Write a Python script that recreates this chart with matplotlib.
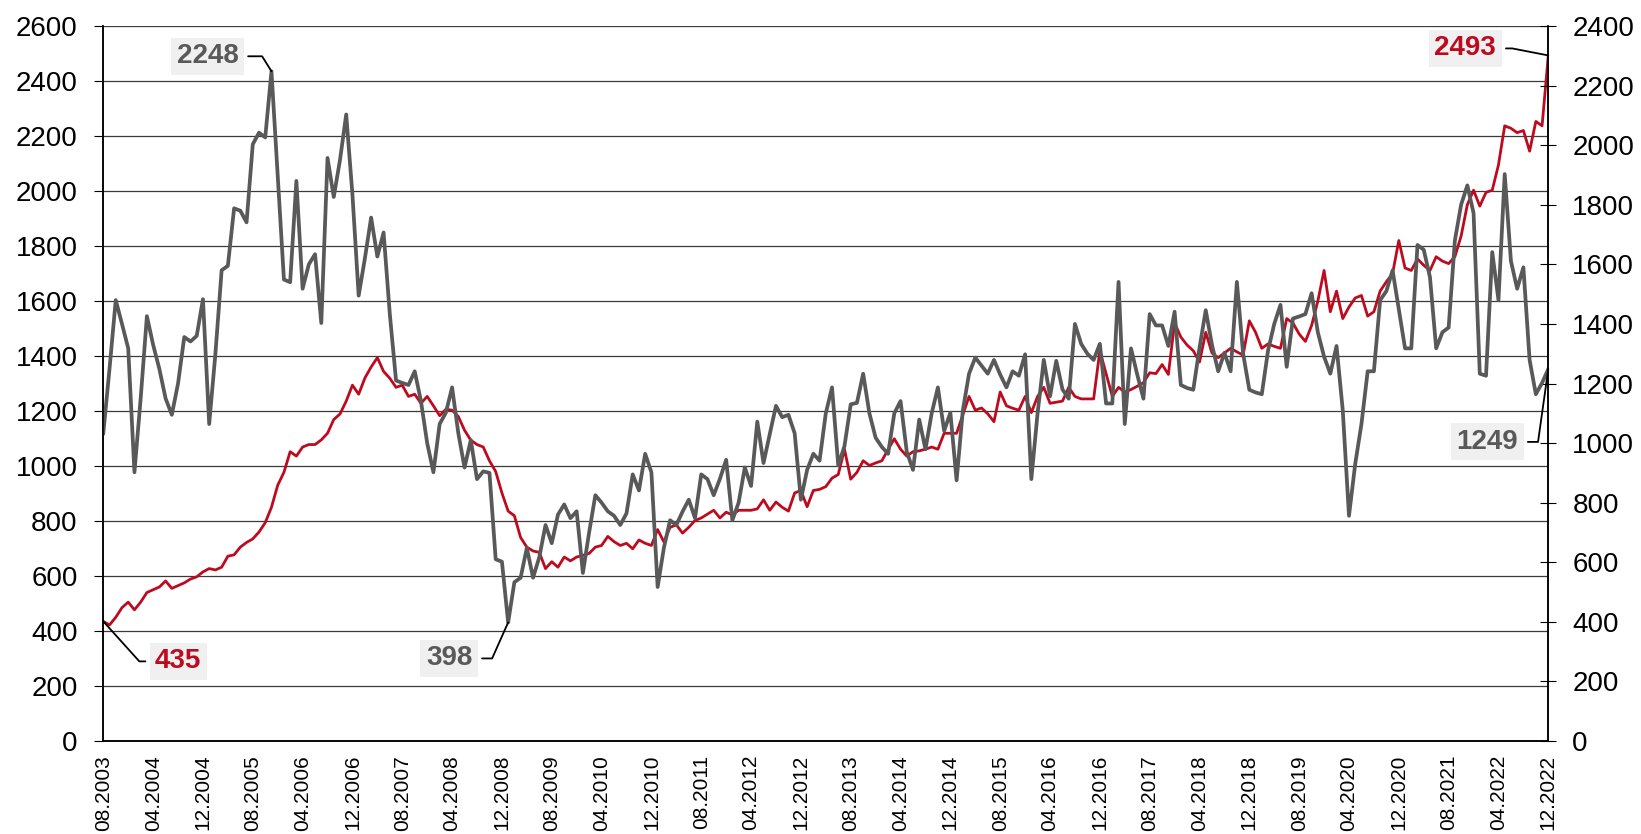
import matplotlib.pyplot as plt
import numpy as np

plt.rcParams['font.family'] = ['Liberation Sans', 'DejaVu Sans']

# monthly values, 08.2003 .. 12.2022
# red line, left axis
red = [435, 422, 450, 485, 505, 477, 505, 540, 550, 560,
       582, 555, 565, 575, 589, 597, 615, 627, 622, 632,
       672, 677, 705, 722, 735, 760, 794, 850, 930, 977,
       1052, 1036, 1069, 1078, 1078, 1095, 1119, 1169, 1189, 1236,
       1294, 1261, 1320, 1360, 1394, 1344, 1319, 1286, 1294, 1253,
       1261, 1228, 1253, 1219, 1183, 1206, 1203, 1180, 1130, 1094,
       1078, 1069, 1019, 980, 902, 836, 819, 740, 705, 691,
       686, 627, 652, 632, 669, 655, 669, 675, 682, 705,
       711, 744, 725, 711, 719, 699, 731, 719, 711, 769,
       724, 777, 786, 756, 777, 802, 811, 825, 839, 811,
       832, 822, 839, 839, 839, 844, 877, 839, 869, 850,
       836, 902, 911, 852, 911, 915, 925, 956, 969, 1061,
       952, 977, 1019, 1002, 1011, 1019, 1060, 1099, 1061, 1036,
       1052, 1055, 1061, 1069, 1061, 1119, 1119, 1119, 1186, 1253,
       1203, 1211, 1190, 1161, 1269, 1219, 1210, 1203, 1253, 1194,
       1253, 1286, 1228, 1232, 1236, 1286, 1253, 1244, 1244, 1244,
       1419, 1336, 1253, 1286, 1269, 1278, 1290, 1303, 1339, 1336,
       1369, 1333, 1520, 1469, 1440, 1419, 1378, 1486, 1411, 1394,
       1411, 1428, 1415, 1403, 1528, 1486, 1428, 1444, 1435, 1428,
       1536, 1520, 1480, 1453, 1511, 1600, 1711, 1561, 1636, 1536,
       1578, 1611, 1620, 1545, 1561, 1636, 1670, 1700, 1820, 1720,
       1711, 1753, 1730, 1711, 1761, 1745, 1736, 1761, 1836, 1950,
       2003, 1945, 1995, 2003, 2095, 2237, 2228, 2212, 2220, 2145,
       2253, 2237, 2493]

# gray line, right axis
gray = [1033, 1250, 1480, 1400, 1318, 902, 1150, 1426, 1330, 1249,
        1150, 1095, 1200, 1356, 1341, 1360, 1483, 1064, 1300, 1580,
        1595, 1788, 1780, 1741, 2003, 2042, 2026, 2248, 1900, 1549,
        1540, 1880, 1518, 1600, 1634, 1403, 1957, 1826, 1950, 2103,
        1834, 1495, 1620, 1757, 1626, 1707, 1433, 1210, 1202, 1195,
        1241, 1141, 1000, 902, 1064, 1102, 1187, 1033, 918, 1010,
        879, 905, 900, 610, 602, 398, 533, 548, 648, 548,
        617, 725, 664, 760, 794, 748, 771, 564, 700, 825,
        800, 771, 756, 725, 764, 895, 841, 964, 902, 517,
        648, 741, 725, 770, 810, 748, 895, 879, 825, 880,
        944, 741, 800, 918, 856, 1072, 933, 1030, 1125, 1087,
        1095, 1033, 810, 910, 964, 941, 1100, 1187, 925, 990,
        1130, 1135, 1233, 1100, 1018, 987, 964, 1100, 1141, 971,
        910, 1079, 979, 1100, 1187, 1041, 1102, 875, 1110, 1233,
        1287, 1260, 1233, 1279, 1230, 1187, 1241, 1226, 1298, 879,
        1100, 1279, 1157, 1276, 1180, 1149, 1400, 1333, 1300, 1279,
        1333, 1133, 1133, 1541, 1064, 1318, 1230, 1149, 1433, 1395,
        1395, 1326, 1441, 1195, 1185, 1179, 1320, 1446, 1330, 1241,
        1303, 1241, 1541, 1300, 1179, 1170, 1164, 1310, 1400, 1464,
        1256, 1418, 1425, 1433, 1503, 1372, 1290, 1233, 1326, 1110,
        756, 930, 1064, 1241, 1241, 1480, 1510, 1580, 1450, 1318,
        1318, 1665, 1649, 1557, 1318, 1372, 1388, 1680, 1800, 1865,
        1772, 1233, 1226, 1641, 1480, 1903, 1611, 1518, 1590, 1279,
        1164, 1202, 1249]

tick_labels = ['08.2003', '04.2004', '12.2004', '08.2005', '04.2006', '12.2006',
               '08.2007', '04.2008', '12.2008', '08.2009', '04.2010', '12.2010',
               '08.2011', '04.2012', '12.2012', '08.2013', '04.2014', '12.2014',
               '08.2015', '04.2016', '12.2016', '08.2017', '04.2018', '12.2018',
               '08.2019', '04.2020', '12.2020', '08.2021', '04.2022', '12.2022']

RED = '#be0a1e'
GRAY = '#595959'

x = np.arange(len(red))

fig = plt.figure(figsize=(16.41, 8.34), dpi=100)
ax = fig.add_axes([103.3 / 1641, 1 - 741 / 834, 1445 / 1641, 715 / 834])
ax2 = ax.twinx()

ax.plot(x, red, color=RED, lw=2.0, solid_joinstyle='round')
ax2.plot(x, gray, color=GRAY, lw=2.7, solid_joinstyle='round')

ax.set_xlim(0, len(red) - 1)
ax.set_ylim(0, 2600)
ax.set_yticks(range(0, 2601, 200))
ax2.set_ylim(0, 2400)
ax2.set_yticks(range(0, 2401, 200))
ax.set_xticks(x[::8])
ax.set_xticklabels(tick_labels, rotation=90)

ax.grid(axis='y', color='#3a3a3a', lw=0.9)
ax.set_axisbelow(True)
for a in (ax, ax2):
    a.spines['top'].set_visible(False)
    for s in ('left', 'right', 'bottom'):
        a.spines[s].set_color('black')
        a.spines[s].set_linewidth(1.1)

ax.tick_params(axis='y', labelsize=20, direction='out', length=6.5, pad=12)
ax.tick_params(axis='x', labelsize=15, length=0, pad=10)
ax2.tick_params(axis='y', labelsize=20, direction='inout', length=11.5, pad=11.5)

box = dict(boxstyle='square,pad=0.2', fc='#f0f0f0', ec='none')


def label(axis, i, vals, dx, dy, angle_b, ang_a, color):
    axis.annotate(str(vals[i]), xy=(x[i], vals[i]), xytext=(dx, dy),
                  textcoords='offset pixels', ha='center', va='center',
                  fontsize=20, fontweight='bold', color=color, bbox=box,
                  arrowprops=dict(arrowstyle='-', color='black', lw=1.3,
                                  shrinkA=3, shrinkB=0,
                                  connectionstyle=f'angle,angleA={ang_a},angleB={angle_b},rad=0'))


last = len(red) - 1
label(ax2, int(np.argmax(gray[:60])), gray, -64, 15, 122, 0, GRAY)
label(ax, 0, red, 75, -40, -48, 0, RED)
label(ax2, int(np.argmin(gray)), gray, -59, -36, 66, 0, GRAY)
label(ax, last, red, -83, 7, -11, 0, RED)
label(ax2, last, gray, -61, -73, 82, 0, GRAY)

fig.savefig('out.png', dpi=100)
